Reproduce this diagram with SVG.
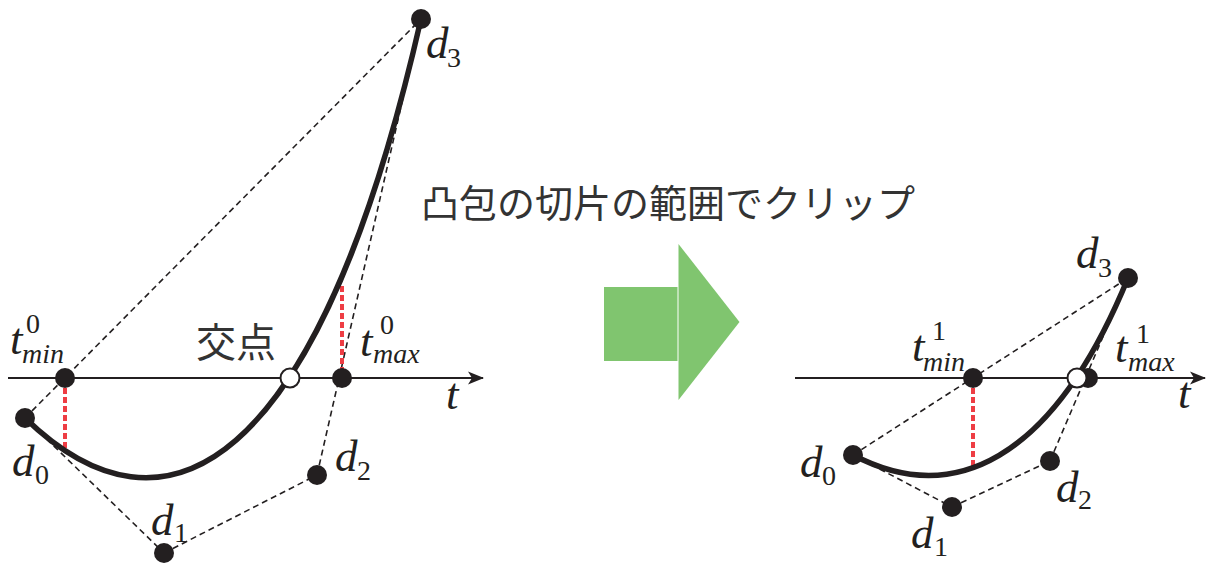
<svg xmlns="http://www.w3.org/2000/svg" width="1206" height="563" viewBox="0 0 1206 563">
<defs>
<style>
.dash{fill:none;stroke:#231f20;stroke-width:1.6;stroke-dasharray:6 4}
.red{fill:none;stroke:#ee3d44;stroke-width:4;stroke-dasharray:6 3}
.axis{fill:none;stroke:#231f20;stroke-width:2}
.curve{fill:none;stroke:#231f20;stroke-width:5.5;stroke-linecap:round}
.dot{fill:#231f20}
.open{fill:#fff;stroke:#231f20;stroke-width:2}
.m{font-family:"Liberation Serif","Times New Roman",serif;fill:#231f20}
.it{font-style:italic}
.big{font-size:45px}
.sm{font-size:28px}
.jp{font-family:"Noto Sans CJK JP","Noto Sans",sans-serif;fill:#333}
.arrowfill{fill:#80c56f}
</style>
<marker id="ah" viewBox="0 0 16 14" refX="15" refY="7" markerWidth="16" markerHeight="14" markerUnits="userSpaceOnUse" orient="auto">
<path d="M0,0.5 L16,7 L0,13.5 L4,7 Z" fill="#231f20"/>
</marker>
</defs>
<rect width="1206" height="563" fill="#fff"/>

<!-- Left diagram connectors -->
<g id="connectors-left">
<line class="dash" x1="25" y1="418" x2="421" y2="19"/>
<line class="dash" x1="25" y1="418" x2="164" y2="553"/>
<line class="dash" x1="164" y1="553" x2="317" y2="475"/>
<line class="dash" x1="317" y1="475" x2="421" y2="19"/>
<line class="red" x1="65" y1="388" x2="65" y2="452"/>
<line class="red" x1="342" y1="286" x2="342" y2="370"/>
<line class="axis" x1="8" y1="378" x2="483" y2="378" marker-end="url(#ah)"/>
<path class="curve" d="M25,418 C164,553 317,475 421,19"/>
</g>

<!-- Right diagram connectors -->
<g id="connectors-right">
<line class="dash" x1="853" y1="455" x2="1128" y2="278"/>
<line class="dash" x1="853" y1="455" x2="952" y2="507"/>
<line class="dash" x1="952" y1="507" x2="1050" y2="461"/>
<line class="dash" x1="1050" y1="461" x2="1128" y2="278"/>
<line class="red" x1="973" y1="388" x2="973" y2="469"/>
<line class="axis" x1="795" y1="378" x2="1205" y2="378" marker-end="url(#ah)"/>
<path class="curve" d="M853,455 C952,507 1052,463 1128,278"/>
</g>

<!-- Left nodes -->
<g id="L-d0"><circle class="dot" cx="25" cy="418" r="10"/>
<text class="m big it" x="12" y="476">d</text><text class="m sm" x="35" y="484">0</text></g>
<g id="L-d1"><circle class="dot" cx="164" cy="553" r="10"/>
<text class="m big it" x="151" y="535">d</text><text class="m sm" x="174" y="542">1</text></g>
<g id="L-d2"><circle class="dot" cx="317" cy="475" r="10"/>
<text class="m big it" x="335" y="471">d</text><text class="m sm" x="357" y="480">2</text></g>
<g id="L-d3"><circle class="dot" cx="421" cy="19" r="10"/>
<text class="m big it" x="426" y="58">d</text><text class="m sm" x="447" y="67">3</text></g>
<g id="L-tmin"><circle class="dot" cx="65" cy="378" r="10"/>
<text class="m big it" x="10" y="354">t</text><text class="m sm" x="26" y="333">0</text><text class="m sm it" x="22" y="363">min</text></g>
<g id="L-tmax"><circle class="dot" cx="342" cy="378" r="10"/>
<text class="m big it" x="360" y="356">t</text><text class="m sm" x="380" y="334">0</text><text class="m sm it" x="373" y="363">max</text></g>
<g id="L-cross"><circle class="open" cx="290" cy="378" r="9.5"/>
<text class="jp" x="196" y="357" font-size="40">交点</text></g>
<g id="L-t"><text class="m big it" x="446" y="409">t</text></g>

<!-- Green arrow -->
<g id="arrow">
<rect class="arrowfill" x="604" y="287" width="73.5" height="74"/>
<polygon class="arrowfill" points="678.5,244 739.5,322 678.5,400"/>
</g>
<g id="title"><text class="jp" x="421" y="217" font-size="38">凸包の切片の範囲でクリップ</text></g>

<!-- Right nodes -->
<g id="R-tmax"><circle class="dot" cx="1088" cy="378" r="10"/>
<text class="m big it" x="1115" y="362">t</text><text class="m sm" x="1136" y="343">1</text><text class="m sm it" x="1128" y="371">max</text></g>
<g id="R-cross"><circle class="open" cx="1077" cy="378" r="9.5"/></g>
<g id="R-d0"><circle class="dot" cx="853" cy="455" r="10"/>
<text class="m big it" x="800" y="477">d</text><text class="m sm" x="822" y="485">0</text></g>
<g id="R-d1"><circle class="dot" cx="952" cy="507" r="10"/>
<text class="m big it" x="911" y="548">d</text><text class="m sm" x="934" y="556">1</text></g>
<g id="R-d2"><circle class="dot" cx="1050" cy="461" r="10"/>
<text class="m big it" x="1056" y="502">d</text><text class="m sm" x="1078" y="509">2</text></g>
<g id="R-d3"><circle class="dot" cx="1128" cy="278" r="10"/>
<text class="m big it" x="1076" y="268">d</text><text class="m sm" x="1098" y="277">3</text></g>
<g id="R-tmin"><circle class="dot" cx="973" cy="378" r="10"/>
<text class="m big it" x="912" y="361">t</text><text class="m sm" x="932" y="340">1</text><text class="m sm it" x="923" y="371">min</text></g>
<g id="R-t"><text class="m big it" x="1178" y="408">t</text></g>
</svg>
